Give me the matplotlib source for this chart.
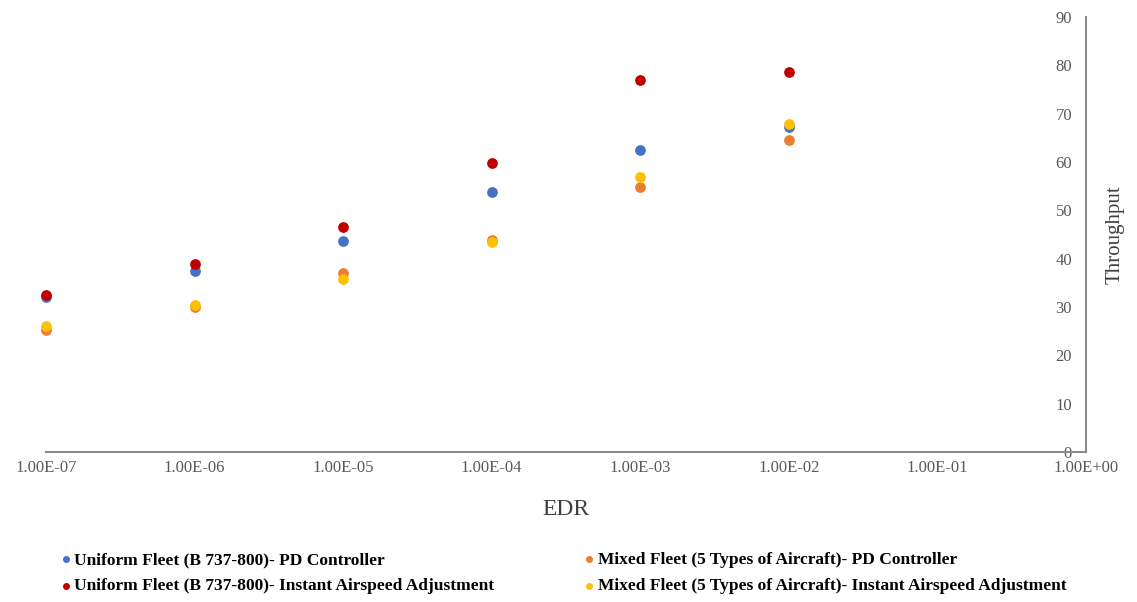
import numpy as np
import matplotlib.pyplot as plt

plt.rcParams['font.family'] = ['Liberation Serif', 'DejaVu Serif']

edr = [1e-7, 1e-6, 1e-5, 1e-4, 1e-3, 1e-2]
uniform_pd = [32.0, 37.5, 43.7, 53.8, 62.5, 67.3]
mixed_pd = [25.3, 30.0, 37.0, 43.9, 54.9, 64.6]
uniform_inst = [32.5, 38.9, 46.6, 59.8, 77.0, 78.7]
mixed_inst = [26.0, 30.4, 35.8, 43.5, 56.9, 67.9]

xticks = [1e-7, 1e-6, 1e-5, 1e-4, 1e-3, 1e-2, 1e-1, 1e0]
xtick_labels = ['1.00E-07', '1.00E-06', '1.00E-05', '1.00E-04',
                '1.00E-03', '1.00E-02', '1.00E-01', '1.00E+00']

fig = plt.figure(figsize=(11.37, 6.02), dpi=100)
ax = fig.add_axes([46 / 1137, 1 - 452 / 602, (1086 - 46) / 1137, (452 - 17) / 602])

ms = 45
h1 = ax.scatter(edr, uniform_pd, s=ms, color='#4472C4', zorder=3, clip_on=False,
                label='Uniform Fleet (B 737-800)- PD Controller')
h2 = ax.scatter(edr, mixed_pd, s=ms, color='#ED7D31', zorder=3, clip_on=False,
                label='Mixed Fleet (5 Types of Aircraft)- PD Controller')
h3 = ax.scatter(edr, uniform_inst, s=ms, color='#C00000', zorder=3, clip_on=False,
                label='Uniform Fleet (B 737-800)- Instant Airspeed Adjustment')
h4 = ax.scatter(edr, mixed_inst, s=ms, color='#FFC000', zorder=3, clip_on=False,
                label='Mixed Fleet (5 Types of Aircraft)- Instant Airspeed Adjustment')

ax.set_xscale('log')
ax.set_xlim(1e-7, 1e0)
ax.set_ylim(0, 90)
ax.set_xticks(xticks)
ax.set_xticklabels(xtick_labels)
ax.minorticks_off()
ax.set_yticks(range(0, 91, 10))

for s in ['top', 'right']:
    ax.spines[s].set_visible(False)
ax.spines['left'].set_position(('axes', 1.0))
for s in ['left', 'bottom']:
    ax.spines[s].set_color('#8c8c8c')
    ax.spines[s].set_linewidth(1.5)

ax.tick_params(axis='both', length=0, labelsize=12, labelcolor='#595959')
ax.tick_params(axis='x', pad=6)
ax.tick_params(axis='y', pad=10)

ax.set_xlabel('EDR', fontsize=17, color='#404040', labelpad=16)
ax.set_ylabel('Throughput', fontsize=15, color='#404040', labelpad=14)
ax.yaxis.set_label_position('right')

fig.legend(handles=[h1, h3, h2, h4], ncol=2, loc='center left',
           bbox_to_anchor=(0.037, 0.048), frameon=False,
           prop={'weight': 'bold', 'size': 12.5}, handletextpad=0.05,
           columnspacing=5.0, labelspacing=0.6, handlelength=0.9,
           markerscale=0.6)

fig.savefig('out.png', dpi=100)
